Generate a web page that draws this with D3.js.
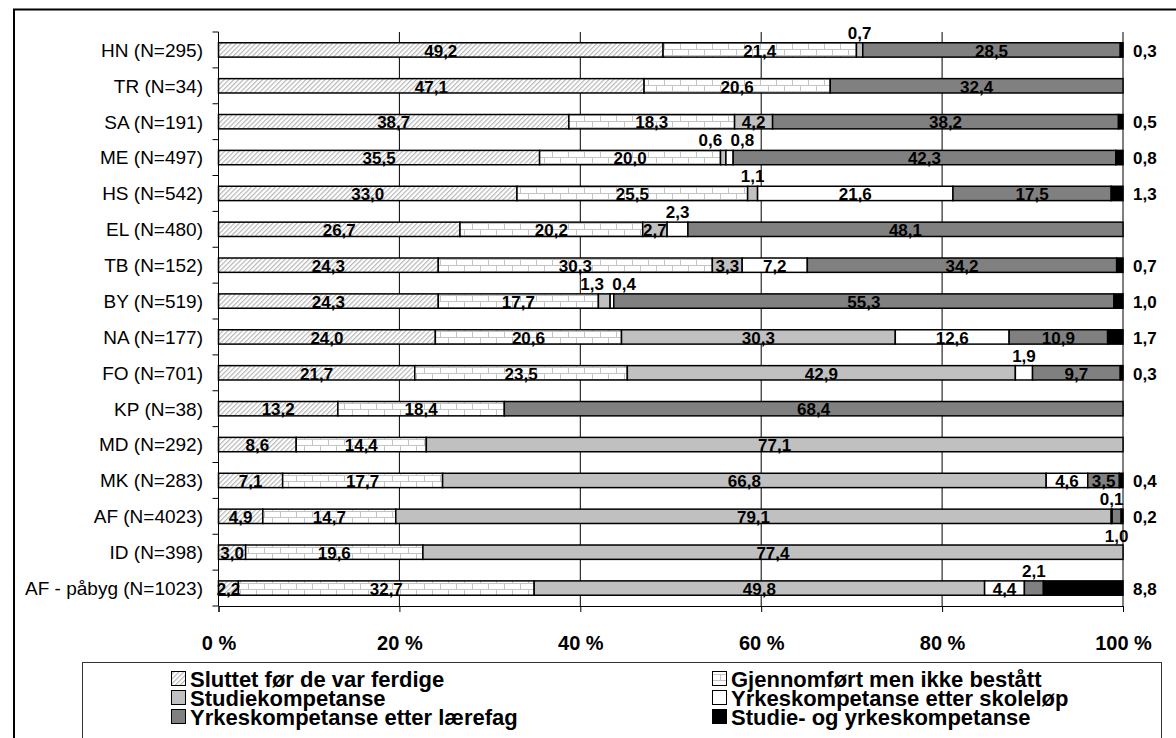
<!DOCTYPE html>
<html>
<head>
<meta charset="utf-8">
<script src="https://cdn.jsdelivr.net/npm/d3@7/dist/d3.min.js"></script>
<style>
  html, body { margin: 0; padding: 0; background: #fff; }
  svg { display: block; font-family: "Liberation Sans", Arial, sans-serif; }
</style>
</head>
<body>
<svg id="chart" width="1176" height="738"></svg>
<script>
// ---------------- data ----------------
const categories = ["HN (N=295)", "TR (N=34)", "SA (N=191)", "ME (N=497)", "HS (N=542)", "EL (N=480)",
  "TB (N=152)", "BY (N=519)", "NA (N=177)", "FO (N=701)", "KP (N=38)", "MD (N=292)",
  "MK (N=283)", "AF (N=4023)", "ID (N=398)", "AF - påbyg (N=1023)"];
const seriesNames = ["Sluttet før de var ferdige", "Gjennomført men ikke bestått", "Studiekompetanse",
  "Yrkeskompetanse etter skoleløp", "Yrkeskompetanse etter lærefag", "Studie- og yrkeskompetanse"];
const sluttet      = [49.2, 47.1, 38.7, 35.5, 33.0, 26.7, 24.3, 24.3, 24.0, 21.7, 13.2, 8.6, 7.1, 4.9, 3.0, 2.2];
const gjennomfort  = [21.4, 20.6, 18.3, 20.0, 25.5, 20.2, 30.3, 17.7, 20.6, 23.5, 18.4, 14.4, 17.7, 14.7, 19.6, 32.7];
const studiekomp   = [0.7, 0, 4.2, 0.6, 1.1, 2.7, 3.3, 1.3, 30.3, 42.9, 0, 77.1, 66.8, 79.1, 77.4, 49.8];
const yrkesSkole   = [0, 0, 0, 0.8, 21.6, 2.3, 7.2, 0.4, 12.6, 1.9, 0, 0, 4.6, 0.1, 0, 4.4];
const yrkesLaere   = [28.5, 32.4, 38.2, 42.3, 17.5, 48.1, 34.2, 55.3, 10.9, 9.7, 68.4, 0, 3.5, 1.0, 0, 2.1];
const studieYrkes  = [0.3, 0, 0.5, 0.8, 1.3, 0, 0.7, 1.0, 1.7, 0.3, 0, 0, 0.4, 0.2, 0, 8.8];
const xTicks = [0, 20, 40, 60, 80, 100];
const xTickLabels = ["0 %", "20 %", "40 %", "60 %", "80 %", "100 %"];
// label that was moved below its bar in the original
const labelBelow = [["AF (N=4023)", 4]];

const seriesValues = [sluttet, gjennomfort, studiekomp, yrkesSkole, yrkesLaere, studieYrkes];
const fills = ["url(#hatch)", "url(#brick)", "#c0c0c0", "#ffffff", "#808080", "#000000"];

// ---------------- setup ----------------
const svg = d3.select("#chart");
svg.append("rect").attr("width", 1176).attr("height", 738).attr("fill", "#fff");

const defs = svg.append("defs");
const hatch = defs.append("pattern").attr("id", "hatch").attr("patternUnits", "userSpaceOnUse")
  .attr("width", 3.4).attr("height", 3.4).attr("patternTransform", "rotate(45)");
hatch.append("rect").attr("width", 3.4).attr("height", 3.4).attr("fill", "#fff");
hatch.append("line").attr("x1", 0.6).attr("y1", 0).attr("x2", 0.6).attr("y2", 3.4)
  .attr("stroke", "#b2b2b2").attr("stroke-width", 1.1);

const brick = defs.append("pattern").attr("id", "brick").attr("patternUnits", "userSpaceOnUse")
  .attr("width", 16).attr("height", 12).attr("y", 1);
brick.append("rect").attr("width", 16).attr("height", 12).attr("fill", "#fff");
brick.append("path").attr("d", "M0,0.5H16M0,6.5H16M0.5,0.5V6.5M8.5,6.5V12")
  .attr("stroke", "#c4c4c4").attr("stroke-width", 1).attr("fill", "none");

// outer frame (left and top edges visible; chart area extends beyond the right edge)
svg.append("path").attr("d", "M14,740V9.5H1180")
  .attr("fill", "none").attr("stroke", "#000").attr("stroke-width", 2);

const x = d3.scaleLinear().domain([0, 100]).range([218.5, 1123]);
const y = d3.scaleBand().domain(categories).range([32, 606]).paddingInner(0.6).paddingOuter(0.3);

// gridlines
svg.append("g").selectAll("line").data(xTicks.filter(d => d > 0)).join("line")
  .attr("x1", d => x(d)).attr("x2", d => x(d)).attr("y1", 32).attr("y2", 606)
  .attr("stroke", "#000").attr("stroke-width", 1);

// stacked data (100 % stacked)
const table = categories.map((c, i) => {
  const row = { cat: c };
  seriesNames.forEach((s, k) => row[s] = seriesValues[k][i]);
  return row;
});
const stacked = d3.stack().keys(seriesNames).offset(d3.stackOffsetExpand)(table);

const barG = svg.append("g");
stacked.forEach((layer, k) => {
  barG.append("g").selectAll("rect").data(layer.filter(d => d[1] - d[0] > 0)).join("rect")
    .attr("x", d => x(d[0] * 100))
    .attr("y", d => y(d.data.cat))
    .attr("width", d => x(d[1] * 100) - x(d[0] * 100))
    .attr("height", y.bandwidth())
    .attr("fill", fills[k])
    .attr("stroke", "#000").attr("stroke-width", 1.5);
});

// left axis line and boundary ticks
const step = y.step();
const firstTop = y(categories[0]) - (step - y.bandwidth()) / 2;
const bounds = d3.range(categories.length + 1).map(i => firstTop + i * step);
svg.append("line").attr("x1", x(0)).attr("x2", x(0)).attr("y1", 32).attr("y2", 606)
  .attr("stroke", "#000").attr("stroke-width", 1);
svg.append("g").selectAll("line").data(bounds).join("line")
  .attr("x1", x(0) - 6).attr("x2", x(0)).attr("y1", d => d).attr("y2", d => d)
  .attr("stroke", "#000").attr("stroke-width", 1);

// category labels
const yAxis = svg.append("g").attr("transform", `translate(${x(0)},0)`)
  .call(d3.axisLeft(y).tickSize(0).tickPadding(15.5));
yAxis.select(".domain").remove();
yAxis.selectAll("text").attr("font-size", 19).attr("font-family", "Liberation Sans, Arial, sans-serif")
  .attr("fill", "#000").attr("dy", "0.36em");

// bottom axis
const xAxis = svg.append("g").attr("transform", "translate(0,606)")
  .call(d3.axisBottom(x).tickValues(xTicks).tickSize(6).tickPadding(24)
    .tickFormat((d, i) => xTickLabels[i]));
xAxis.select(".domain").attr("stroke", "#000");
xAxis.selectAll(".tick line").attr("stroke", "#000");
xAxis.selectAll("text").attr("font-size", 20).attr("font-weight", "bold")
  .attr("font-family", "Liberation Sans, Arial, sans-serif").attr("fill", "#000");

// value labels
const fmt = v => d3.format(".1f")(v).replace(".", ",");
const labels = [];
stacked.forEach((layer, k) => {
  layer.forEach(d => {
    const v = d.data[seriesNames[k]];
    if (!(v > 0)) return;
    const cx = (x(d[0] * 100) + x(d[1] * 100)) / 2;
    const top = y(d.data.cat);
    let mode = "inside";
    if (k === seriesNames.length - 1) mode = "right";
    else if (k >= 2 && v < 2.5) mode = "above";
    if (labelBelow.some(([c, s]) => c === d.data.cat && s === k)) mode = "below";
    labels.push({ cat: d.data.cat, k, v, cx, top, mode });
  });
});
// spread overlapping "above" labels in the same row
categories.forEach(c => {
  const ab = labels.filter(l => l.cat === c && l.mode === "above").sort((a, b) => a.cx - b.cx);
  for (let i = 1; i < ab.length; i++) {
    if (ab[i].cx - ab[i - 1].cx < 28) {
      const m = (ab[i].cx + ab[i - 1].cx) / 2;
      ab[i - 1].cx = m - 16; ab[i].cx = m + 16;
    }
  }
});
const bw = y.bandwidth();
svg.append("g").selectAll("text").data(labels).join("text")
  .attr("x", l => l.mode === "right" ? x(100) + 10 : l.cx)
  .attr("y", l => l.mode === "above" ? l.top - 4 : l.mode === "below" ? l.top + bw + 19 : l.top + bw / 2)
  .attr("dy", l => (l.mode === "inside" || l.mode === "right") ? "0.4em" : 0)
  .attr("text-anchor", l => l.mode === "right" ? "start" : "middle")
  .attr("font-size", 17).attr("font-weight", "bold").attr("fill", "#000")
  .text(l => fmt(l.v));

// legend
svg.append("rect").attr("x", 82.5).attr("y", 662.5).attr("width", 1079).attr("height", 100)
  .attr("fill", "#fff").attr("stroke", "#333").attr("stroke-width", 1);
const legX = [171, 712];
const legY = [679, 698, 717];
const leg = svg.append("g").selectAll("g").data(seriesNames).join("g")
  .attr("transform", (d, i) => `translate(${legX[i % 2]},${legY[Math.floor(i / 2)]})`);
leg.append("rect").attr("x", 0.5).attr("y", -7.5).attr("width", 14).attr("height", 14)
  .attr("fill", (d, i) => fills[i]).attr("stroke", "#000").attr("stroke-width", 1);
leg.append("text").attr("x", 19).attr("dy", "0.36em")
  .attr("font-size", 22).attr("font-weight", "bold").attr("fill", "#000")
  .text(d => d);
</script>
</body>
</html>
